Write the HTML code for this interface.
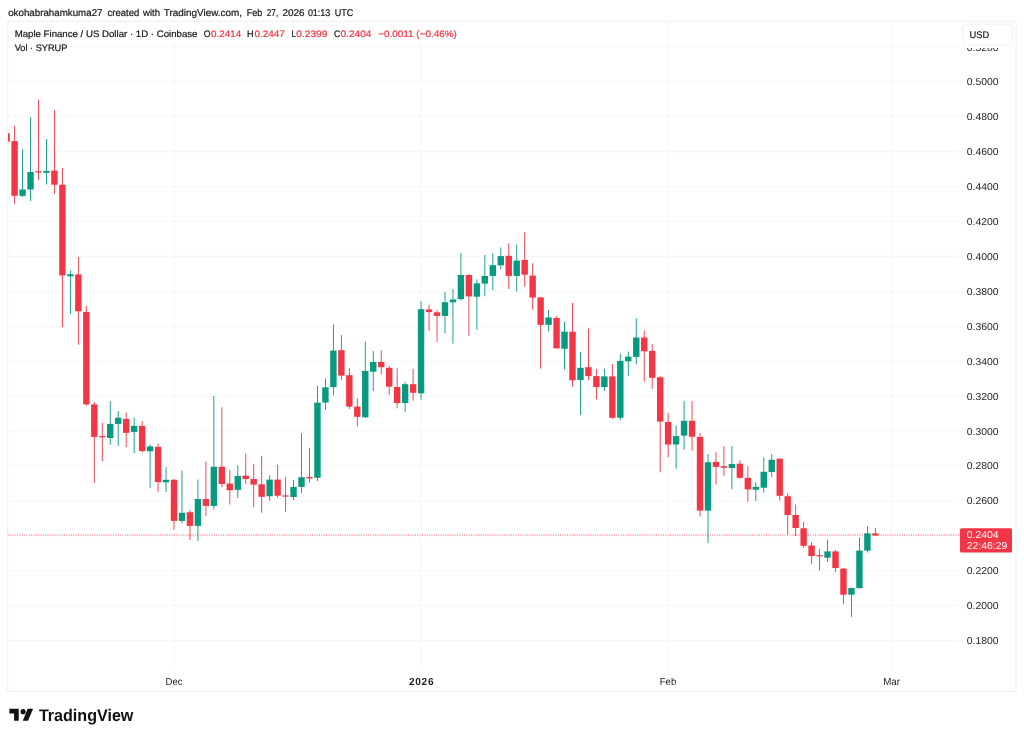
<!DOCTYPE html>
<html lang="en"><head><meta charset="utf-8"><title>SYRUPUSD chart - TradingView</title>
<style>html,body{margin:0;padding:0;background:#fff;}body{width:1024px;height:739px;overflow:hidden;font-family:"Liberation Sans",sans-serif;}svg{display:block}</style>
</head><body>
<svg width="1024" height="739" viewBox="0 0 1024 739" font-family="'Liberation Sans', sans-serif" text-rendering="geometricPrecision">
<rect width="1024" height="739" fill="#fff"/>
<g stroke="#f6f6f6" stroke-width="1">
<line x1="7.8" x2="959" y1="46.82" y2="46.82"/>
<line x1="7.8" x2="959" y1="81.75" y2="81.75"/>
<line x1="7.8" x2="959" y1="116.68" y2="116.68"/>
<line x1="7.8" x2="959" y1="151.61" y2="151.61"/>
<line x1="7.8" x2="959" y1="186.54" y2="186.54"/>
<line x1="7.8" x2="959" y1="221.47" y2="221.47"/>
<line x1="7.8" x2="959" y1="256.40" y2="256.40"/>
<line x1="7.8" x2="959" y1="291.33" y2="291.33"/>
<line x1="7.8" x2="959" y1="326.26" y2="326.26"/>
<line x1="7.8" x2="959" y1="361.19" y2="361.19"/>
<line x1="7.8" x2="959" y1="396.12" y2="396.12"/>
<line x1="7.8" x2="959" y1="431.05" y2="431.05"/>
<line x1="7.8" x2="959" y1="465.98" y2="465.98"/>
<line x1="7.8" x2="959" y1="500.91" y2="500.91"/>
<line x1="7.8" x2="959" y1="535.84" y2="535.84"/>
<line x1="7.8" x2="959" y1="570.77" y2="570.77"/>
<line x1="7.8" x2="959" y1="605.70" y2="605.70"/>
<line x1="7.8" x2="959" y1="640.63" y2="640.63"/>
<line x1="174.1" x2="174.1" y1="21.3" y2="669.3"/>
<line x1="421.2" x2="421.2" y1="21.3" y2="669.3"/>
<line x1="668.3" x2="668.3" y1="21.3" y2="669.3"/>
<line x1="891.5" x2="891.5" y1="21.3" y2="669.3"/>
</g>
<rect x="7.8" y="21.3" width="1008.2" height="670.1" fill="none" stroke="#efefef" stroke-width="1"/>
<line x1="7.8" x2="960" y1="535" y2="535" stroke="#f23645" stroke-width="1" stroke-dasharray="0.95 1.39" stroke-opacity="0.8"/>
<g>
<rect x="8" y="133.2" width="1.8" height="8.50" fill="#f23645"/>
<rect x="14.15" y="125.90" width="0.9" height="77.85" fill="#f23645"/>
<rect x="11.40" y="141.10" width="6.4" height="54.70" fill="#f23645"/>
<rect x="22.12" y="149.40" width="0.9" height="47.50" fill="#089981"/>
<rect x="19.37" y="189.50" width="6.4" height="6.30" fill="#089981"/>
<rect x="30.09" y="117.50" width="0.9" height="83.40" fill="#089981"/>
<rect x="27.34" y="172.00" width="6.4" height="17.50" fill="#089981"/>
<rect x="38.06" y="99.70" width="0.9" height="80.60" fill="#f23645"/>
<rect x="35.31" y="171.30" width="6.4" height="1.20" fill="#f23645"/>
<rect x="46.03" y="139.20" width="0.9" height="45.30" fill="#089981"/>
<rect x="43.28" y="170.90" width="6.4" height="1.90" fill="#089981"/>
<rect x="54.00" y="110.00" width="0.9" height="83.90" fill="#f23645"/>
<rect x="51.25" y="170.60" width="6.4" height="14.10" fill="#f23645"/>
<rect x="61.97" y="168.00" width="0.9" height="159.00" fill="#f23645"/>
<rect x="59.22" y="184.70" width="6.4" height="90.70" fill="#f23645"/>
<rect x="69.94" y="270.60" width="0.9" height="43.30" fill="#089981"/>
<rect x="67.19" y="274.20" width="6.4" height="2.10" fill="#089981"/>
<rect x="77.91" y="256.90" width="0.9" height="87.80" fill="#f23645"/>
<rect x="75.16" y="274.40" width="6.4" height="36.85" fill="#f23645"/>
<rect x="85.88" y="305.90" width="0.9" height="99.70" fill="#f23645"/>
<rect x="83.13" y="311.90" width="6.4" height="92.50" fill="#f23645"/>
<rect x="93.85" y="402.00" width="0.9" height="80.80" fill="#f23645"/>
<rect x="91.10" y="404.40" width="6.4" height="32.50" fill="#f23645"/>
<rect x="101.82" y="422.70" width="0.9" height="38.55" fill="#f23645"/>
<rect x="99.07" y="436.10" width="6.4" height="1.20" fill="#f23645"/>
<rect x="109.79" y="401.25" width="0.9" height="43.45" fill="#089981"/>
<rect x="107.04" y="423.90" width="6.4" height="14.10" fill="#089981"/>
<rect x="117.76" y="411.10" width="0.9" height="34.70" fill="#089981"/>
<rect x="115.01" y="417.70" width="6.4" height="6.20" fill="#089981"/>
<rect x="125.73" y="412.50" width="0.9" height="34.70" fill="#f23645"/>
<rect x="122.98" y="418.90" width="6.4" height="13.90" fill="#f23645"/>
<rect x="133.70" y="417.70" width="0.9" height="35.50" fill="#089981"/>
<rect x="130.95" y="425.90" width="6.4" height="6.00" fill="#089981"/>
<rect x="141.67" y="421.10" width="0.9" height="31.40" fill="#f23645"/>
<rect x="138.92" y="425.90" width="6.4" height="25.20" fill="#f23645"/>
<rect x="149.64" y="444.30" width="0.9" height="43.80" fill="#089981"/>
<rect x="146.89" y="446.40" width="6.4" height="4.85" fill="#089981"/>
<rect x="157.61" y="443.40" width="0.9" height="48.90" fill="#f23645"/>
<rect x="154.86" y="446.80" width="6.4" height="35.30" fill="#f23645"/>
<rect x="165.58" y="467.10" width="0.9" height="24.90" fill="#089981"/>
<rect x="162.83" y="479.80" width="6.4" height="2.50" fill="#089981"/>
<rect x="173.55" y="479.00" width="0.9" height="50.80" fill="#f23645"/>
<rect x="170.80" y="479.80" width="6.4" height="41.10" fill="#f23645"/>
<rect x="181.52" y="470.70" width="0.9" height="52.60" fill="#089981"/>
<rect x="178.77" y="512.80" width="6.4" height="8.10" fill="#089981"/>
<rect x="189.49" y="509.80" width="0.9" height="30.20" fill="#f23645"/>
<rect x="186.74" y="512.20" width="6.4" height="13.70" fill="#f23645"/>
<rect x="197.46" y="479.50" width="0.9" height="61.30" fill="#089981"/>
<rect x="194.71" y="499.00" width="6.4" height="26.90" fill="#089981"/>
<rect x="205.43" y="461.40" width="0.9" height="54.70" fill="#f23645"/>
<rect x="202.68" y="499.00" width="6.4" height="6.90" fill="#f23645"/>
<rect x="213.40" y="395.90" width="0.9" height="113.60" fill="#089981"/>
<rect x="210.65" y="466.80" width="6.4" height="39.10" fill="#089981"/>
<rect x="221.37" y="407.30" width="0.9" height="79.80" fill="#f23645"/>
<rect x="218.62" y="466.80" width="6.4" height="17.20" fill="#f23645"/>
<rect x="229.34" y="470.10" width="0.9" height="34.40" fill="#f23645"/>
<rect x="226.59" y="483.60" width="6.4" height="6.65" fill="#f23645"/>
<rect x="237.31" y="465.25" width="0.9" height="32.95" fill="#089981"/>
<rect x="234.56" y="475.90" width="6.4" height="13.95" fill="#089981"/>
<rect x="245.28" y="453.50" width="0.9" height="30.50" fill="#f23645"/>
<rect x="242.53" y="475.60" width="6.4" height="3.50" fill="#f23645"/>
<rect x="253.25" y="464.00" width="0.9" height="42.90" fill="#f23645"/>
<rect x="250.50" y="479.00" width="6.4" height="5.60" fill="#f23645"/>
<rect x="261.22" y="455.85" width="0.9" height="56.85" fill="#f23645"/>
<rect x="258.47" y="484.30" width="6.4" height="12.50" fill="#f23645"/>
<rect x="269.19" y="475.20" width="0.9" height="25.70" fill="#089981"/>
<rect x="266.44" y="479.60" width="6.4" height="16.65" fill="#089981"/>
<rect x="277.16" y="464.45" width="0.9" height="33.35" fill="#f23645"/>
<rect x="274.41" y="479.60" width="6.4" height="16.10" fill="#f23645"/>
<rect x="285.13" y="477.20" width="0.9" height="34.70" fill="#f23645"/>
<rect x="282.38" y="495.40" width="6.4" height="1.25" fill="#f23645"/>
<rect x="293.10" y="479.80" width="0.9" height="20.20" fill="#089981"/>
<rect x="290.35" y="487.00" width="6.4" height="10.00" fill="#089981"/>
<rect x="301.07" y="433.10" width="0.9" height="60.00" fill="#089981"/>
<rect x="298.32" y="477.20" width="6.4" height="9.70" fill="#089981"/>
<rect x="309.04" y="448.00" width="0.9" height="34.70" fill="#f23645"/>
<rect x="306.29" y="476.90" width="6.4" height="1.50" fill="#f23645"/>
<rect x="317.01" y="385.80" width="0.9" height="95.30" fill="#089981"/>
<rect x="314.26" y="402.60" width="6.4" height="75.20" fill="#089981"/>
<rect x="324.98" y="378.40" width="0.9" height="31.60" fill="#089981"/>
<rect x="322.23" y="387.30" width="6.4" height="15.30" fill="#089981"/>
<rect x="332.95" y="324.40" width="0.9" height="71.00" fill="#089981"/>
<rect x="330.20" y="350.60" width="6.4" height="36.50" fill="#089981"/>
<rect x="340.92" y="335.00" width="0.9" height="44.80" fill="#f23645"/>
<rect x="338.17" y="350.20" width="6.4" height="25.40" fill="#f23645"/>
<rect x="348.89" y="368.10" width="0.9" height="40.80" fill="#f23645"/>
<rect x="346.14" y="375.20" width="6.4" height="31.40" fill="#f23645"/>
<rect x="356.86" y="398.30" width="0.9" height="28.10" fill="#f23645"/>
<rect x="354.11" y="406.60" width="6.4" height="10.20" fill="#f23645"/>
<rect x="364.83" y="341.60" width="0.9" height="76.40" fill="#089981"/>
<rect x="362.08" y="370.90" width="6.4" height="46.40" fill="#089981"/>
<rect x="372.80" y="351.10" width="0.9" height="40.15" fill="#089981"/>
<rect x="370.05" y="362.00" width="6.4" height="9.70" fill="#089981"/>
<rect x="380.77" y="350.30" width="0.9" height="24.10" fill="#f23645"/>
<rect x="378.02" y="362.00" width="6.4" height="5.20" fill="#f23645"/>
<rect x="388.74" y="365.90" width="0.9" height="28.90" fill="#f23645"/>
<rect x="385.99" y="367.80" width="6.4" height="18.80" fill="#f23645"/>
<rect x="396.71" y="368.30" width="0.9" height="40.10" fill="#f23645"/>
<rect x="393.96" y="387.00" width="6.4" height="16.00" fill="#f23645"/>
<rect x="404.68" y="381.90" width="0.9" height="30.00" fill="#089981"/>
<rect x="401.93" y="384.20" width="6.4" height="18.80" fill="#089981"/>
<rect x="412.65" y="368.75" width="0.9" height="31.85" fill="#f23645"/>
<rect x="409.90" y="384.20" width="6.4" height="8.60" fill="#f23645"/>
<rect x="420.62" y="301.10" width="0.9" height="98.70" fill="#089981"/>
<rect x="417.87" y="309.20" width="6.4" height="84.10" fill="#089981"/>
<rect x="428.59" y="304.70" width="0.9" height="26.10" fill="#f23645"/>
<rect x="425.84" y="309.40" width="6.4" height="2.70" fill="#f23645"/>
<rect x="436.56" y="310.20" width="0.9" height="31.80" fill="#f23645"/>
<rect x="433.81" y="312.30" width="6.4" height="3.60" fill="#f23645"/>
<rect x="444.53" y="291.70" width="0.9" height="41.50" fill="#089981"/>
<rect x="441.78" y="302.20" width="6.4" height="13.70" fill="#089981"/>
<rect x="452.50" y="288.90" width="0.9" height="54.70" fill="#089981"/>
<rect x="449.75" y="299.50" width="6.4" height="2.80" fill="#089981"/>
<rect x="460.47" y="253.10" width="0.9" height="47.50" fill="#089981"/>
<rect x="457.72" y="275.00" width="6.4" height="24.10" fill="#089981"/>
<rect x="468.44" y="274.20" width="0.9" height="61.60" fill="#f23645"/>
<rect x="465.69" y="275.00" width="6.4" height="21.40" fill="#f23645"/>
<rect x="476.41" y="279.40" width="0.9" height="50.30" fill="#089981"/>
<rect x="473.66" y="283.40" width="6.4" height="13.30" fill="#089981"/>
<rect x="484.38" y="255.00" width="0.9" height="41.25" fill="#089981"/>
<rect x="481.63" y="275.90" width="6.4" height="7.70" fill="#089981"/>
<rect x="492.35" y="253.00" width="0.9" height="37.20" fill="#089981"/>
<rect x="489.60" y="265.20" width="6.4" height="10.70" fill="#089981"/>
<rect x="500.32" y="247.50" width="0.9" height="21.90" fill="#089981"/>
<rect x="497.57" y="256.10" width="6.4" height="9.20" fill="#089981"/>
<rect x="508.29" y="243.30" width="0.9" height="45.60" fill="#f23645"/>
<rect x="505.54" y="255.80" width="6.4" height="20.10" fill="#f23645"/>
<rect x="516.26" y="244.40" width="0.9" height="47.20" fill="#089981"/>
<rect x="513.51" y="260.60" width="6.4" height="15.30" fill="#089981"/>
<rect x="524.23" y="232.30" width="0.9" height="54.40" fill="#f23645"/>
<rect x="521.48" y="260.00" width="6.4" height="14.70" fill="#f23645"/>
<rect x="532.20" y="263.30" width="0.9" height="46.40" fill="#f23645"/>
<rect x="529.45" y="275.60" width="6.4" height="21.90" fill="#f23645"/>
<rect x="540.17" y="296.70" width="0.9" height="71.90" fill="#f23645"/>
<rect x="537.42" y="297.40" width="6.4" height="27.45" fill="#f23645"/>
<rect x="548.14" y="310.15" width="0.9" height="21.15" fill="#089981"/>
<rect x="545.39" y="317.50" width="6.4" height="7.30" fill="#089981"/>
<rect x="556.11" y="316.20" width="0.9" height="32.55" fill="#f23645"/>
<rect x="553.36" y="318.00" width="6.4" height="30.30" fill="#f23645"/>
<rect x="564.08" y="321.65" width="0.9" height="47.85" fill="#089981"/>
<rect x="561.33" y="331.65" width="6.4" height="17.10" fill="#089981"/>
<rect x="572.05" y="302.90" width="0.9" height="83.80" fill="#f23645"/>
<rect x="569.30" y="331.65" width="6.4" height="48.65" fill="#f23645"/>
<rect x="580.02" y="351.90" width="0.9" height="62.90" fill="#089981"/>
<rect x="577.27" y="367.80" width="6.4" height="12.20" fill="#089981"/>
<rect x="587.99" y="328.40" width="0.9" height="51.90" fill="#f23645"/>
<rect x="585.24" y="367.20" width="6.4" height="8.90" fill="#f23645"/>
<rect x="595.96" y="369.10" width="0.9" height="30.40" fill="#f23645"/>
<rect x="593.21" y="376.10" width="6.4" height="10.90" fill="#f23645"/>
<rect x="603.93" y="368.75" width="0.9" height="22.15" fill="#089981"/>
<rect x="601.18" y="376.40" width="6.4" height="10.60" fill="#089981"/>
<rect x="611.90" y="364.10" width="0.9" height="54.90" fill="#f23645"/>
<rect x="609.15" y="376.40" width="6.4" height="41.40" fill="#f23645"/>
<rect x="619.87" y="353.40" width="0.9" height="66.90" fill="#089981"/>
<rect x="617.12" y="360.90" width="6.4" height="56.85" fill="#089981"/>
<rect x="627.84" y="351.60" width="0.9" height="24.60" fill="#089981"/>
<rect x="625.09" y="356.60" width="6.4" height="4.65" fill="#089981"/>
<rect x="635.81" y="318.30" width="0.9" height="46.10" fill="#089981"/>
<rect x="633.06" y="337.50" width="6.4" height="19.40" fill="#089981"/>
<rect x="643.78" y="330.50" width="0.9" height="51.15" fill="#f23645"/>
<rect x="641.03" y="337.50" width="6.4" height="13.75" fill="#f23645"/>
<rect x="651.75" y="344.10" width="0.9" height="44.70" fill="#f23645"/>
<rect x="649.00" y="350.90" width="6.4" height="26.85" fill="#f23645"/>
<rect x="659.72" y="376.10" width="0.9" height="96.20" fill="#f23645"/>
<rect x="656.97" y="377.30" width="6.4" height="44.30" fill="#f23645"/>
<rect x="667.69" y="413.00" width="0.9" height="44.20" fill="#f23645"/>
<rect x="664.94" y="422.00" width="6.4" height="22.50" fill="#f23645"/>
<rect x="675.66" y="425.50" width="0.9" height="43.40" fill="#089981"/>
<rect x="672.91" y="436.10" width="6.4" height="8.40" fill="#089981"/>
<rect x="683.63" y="400.90" width="0.9" height="48.80" fill="#089981"/>
<rect x="680.88" y="420.80" width="6.4" height="14.80" fill="#089981"/>
<rect x="691.60" y="400.90" width="0.9" height="49.90" fill="#f23645"/>
<rect x="688.85" y="420.80" width="6.4" height="15.90" fill="#f23645"/>
<rect x="699.57" y="433.00" width="0.9" height="83.60" fill="#f23645"/>
<rect x="696.82" y="436.90" width="6.4" height="73.70" fill="#f23645"/>
<rect x="707.54" y="453.80" width="0.9" height="89.30" fill="#089981"/>
<rect x="704.79" y="462.20" width="6.4" height="48.40" fill="#089981"/>
<rect x="715.51" y="452.00" width="0.9" height="32.50" fill="#f23645"/>
<rect x="712.76" y="461.90" width="6.4" height="5.00" fill="#f23645"/>
<rect x="723.48" y="446.00" width="0.9" height="29.90" fill="#f23645"/>
<rect x="720.73" y="466.20" width="6.4" height="1.60" fill="#f23645"/>
<rect x="731.45" y="446.00" width="0.9" height="43.20" fill="#089981"/>
<rect x="728.70" y="464.00" width="6.4" height="4.05" fill="#089981"/>
<rect x="739.42" y="460.30" width="0.9" height="18.40" fill="#f23645"/>
<rect x="736.67" y="463.75" width="6.4" height="14.05" fill="#f23645"/>
<rect x="747.39" y="466.10" width="0.9" height="35.60" fill="#f23645"/>
<rect x="744.64" y="477.80" width="6.4" height="11.60" fill="#f23645"/>
<rect x="755.36" y="482.20" width="0.9" height="18.70" fill="#089981"/>
<rect x="752.61" y="486.90" width="6.4" height="2.80" fill="#089981"/>
<rect x="763.33" y="457.35" width="0.9" height="35.35" fill="#089981"/>
<rect x="760.58" y="471.80" width="6.4" height="15.90" fill="#089981"/>
<rect x="771.30" y="454.05" width="0.9" height="23.05" fill="#089981"/>
<rect x="768.55" y="459.80" width="6.4" height="12.20" fill="#089981"/>
<rect x="779.27" y="458.40" width="0.9" height="42.20" fill="#f23645"/>
<rect x="776.52" y="458.70" width="6.4" height="37.10" fill="#f23645"/>
<rect x="787.24" y="493.40" width="0.9" height="41.50" fill="#f23645"/>
<rect x="784.49" y="496.25" width="6.4" height="18.75" fill="#f23645"/>
<rect x="795.21" y="504.50" width="0.9" height="31.50" fill="#f23645"/>
<rect x="792.46" y="515.00" width="6.4" height="13.00" fill="#f23645"/>
<rect x="803.18" y="522.00" width="0.9" height="25.80" fill="#f23645"/>
<rect x="800.43" y="528.30" width="6.4" height="17.50" fill="#f23645"/>
<rect x="811.15" y="542.00" width="0.9" height="22.20" fill="#f23645"/>
<rect x="808.40" y="545.50" width="6.4" height="10.60" fill="#f23645"/>
<rect x="819.12" y="548.90" width="0.9" height="21.60" fill="#f23645"/>
<rect x="816.37" y="555.20" width="6.4" height="1.20" fill="#f23645"/>
<rect x="827.09" y="539.70" width="0.9" height="22.20" fill="#089981"/>
<rect x="824.34" y="551.40" width="6.4" height="6.30" fill="#089981"/>
<rect x="835.06" y="550.00" width="0.9" height="22.00" fill="#f23645"/>
<rect x="832.31" y="551.40" width="6.4" height="16.70" fill="#f23645"/>
<rect x="843.03" y="568.10" width="0.9" height="35.90" fill="#f23645"/>
<rect x="840.28" y="568.60" width="6.4" height="26.10" fill="#f23645"/>
<rect x="851.00" y="587.60" width="0.9" height="29.30" fill="#089981"/>
<rect x="848.25" y="588.00" width="6.4" height="6.70" fill="#089981"/>
<rect x="858.97" y="537.30" width="0.9" height="51.45" fill="#089981"/>
<rect x="856.22" y="550.60" width="6.4" height="37.50" fill="#089981"/>
<rect x="866.94" y="526.25" width="0.9" height="26.25" fill="#089981"/>
<rect x="864.19" y="533.30" width="6.4" height="17.30" fill="#089981"/>
<rect x="874.91" y="527.80" width="0.9" height="8.10" fill="#f23645"/>
<rect x="872.16" y="533.40" width="6.4" height="2.10" fill="#f23645"/>
</g>
<text y="15.8" font-size="9.8" fill="#1a1a1e" stroke="#1a1a1e" stroke-width="0.22"><tspan x="8.2" textLength="94.30" lengthAdjust="spacingAndGlyphs">okohabrahamkuma27</tspan> <tspan x="107.5" textLength="31.80" lengthAdjust="spacingAndGlyphs">created</tspan> <tspan x="143.0" textLength="17.00" lengthAdjust="spacingAndGlyphs">with</tspan> <tspan x="163.8" textLength="78.20" lengthAdjust="spacingAndGlyphs">TradingView.com,</tspan> <tspan x="246.8" textLength="15.50" lengthAdjust="spacingAndGlyphs">Feb</tspan> <tspan x="266.8" textLength="11.40" lengthAdjust="spacingAndGlyphs">27,</tspan> <tspan x="282.4" textLength="22.20" lengthAdjust="spacingAndGlyphs">2026</tspan> <tspan x="307.9" textLength="22.40" lengthAdjust="spacingAndGlyphs">01:13</tspan> <tspan x="334.7" textLength="18.60" lengthAdjust="spacingAndGlyphs">UTC</tspan></text>
<text x="14.65" y="37.1" font-size="9.4" fill="#1a1a1e" stroke="#1a1a1e" stroke-width="0.22" textLength="182.85" lengthAdjust="spacingAndGlyphs">Maple Finance / US Dollar · 1D · Coinbase</text>
<text x="203.8" y="37.1" font-size="9.4" fill="#1a1a1e" stroke="#1a1a1e" stroke-width="0.22" textLength="6.80" lengthAdjust="spacingAndGlyphs">O</text>
<text x="211.1" y="37.1" font-size="9.4" fill="#f23645" stroke="#f23645" stroke-width="0.22" textLength="30.10" lengthAdjust="spacingAndGlyphs">0.2414</text>
<text x="247.1" y="37.1" font-size="9.4" fill="#1a1a1e" stroke="#1a1a1e" stroke-width="0.22" textLength="6.60" lengthAdjust="spacingAndGlyphs">H</text>
<text x="254.4" y="37.1" font-size="9.4" fill="#f23645" stroke="#f23645" stroke-width="0.22" textLength="30.40" lengthAdjust="spacingAndGlyphs">0.2447</text>
<text x="291.5" y="37.1" font-size="9.4" fill="#1a1a1e" stroke="#1a1a1e" stroke-width="0.22" textLength="4.60" lengthAdjust="spacingAndGlyphs">L</text>
<text x="296.2" y="37.1" font-size="9.4" fill="#f23645" stroke="#f23645" stroke-width="0.22" textLength="31.30" lengthAdjust="spacingAndGlyphs">0.2399</text>
<text x="334" y="37.1" font-size="9.4" fill="#1a1a1e" stroke="#1a1a1e" stroke-width="0.22" textLength="6.30" lengthAdjust="spacingAndGlyphs">C</text>
<text x="340.5" y="37.1" font-size="9.4" fill="#f23645" stroke="#f23645" stroke-width="0.22" textLength="30.90" lengthAdjust="spacingAndGlyphs">0.2404</text>
<text x="378.2" y="37.1" font-size="9.4" fill="#f23645" stroke="#f23645" stroke-width="0.22" textLength="78.70" lengthAdjust="spacingAndGlyphs">−0.0011 (−0.46%)</text>
<text x="14.65" y="50.5" font-size="9.4" fill="#1a1a1e" stroke="#1a1a1e" stroke-width="0.22" textLength="52.75" lengthAdjust="spacingAndGlyphs">Vol · SYRUP</text>
<text x="966.7" y="50.82" font-size="10" fill="#1e1e1e" textLength="31.90" lengthAdjust="spacingAndGlyphs">0.5200</text>
<text x="966.7" y="85.25" font-size="10" fill="#1e1e1e" textLength="31.90" lengthAdjust="spacingAndGlyphs">0.5000</text>
<text x="966.7" y="120.18" font-size="10" fill="#1e1e1e" textLength="31.90" lengthAdjust="spacingAndGlyphs">0.4800</text>
<text x="966.7" y="155.11" font-size="10" fill="#1e1e1e" textLength="31.90" lengthAdjust="spacingAndGlyphs">0.4600</text>
<text x="966.7" y="190.04" font-size="10" fill="#1e1e1e" textLength="31.90" lengthAdjust="spacingAndGlyphs">0.4400</text>
<text x="966.7" y="224.97" font-size="10" fill="#1e1e1e" textLength="31.90" lengthAdjust="spacingAndGlyphs">0.4200</text>
<text x="966.7" y="259.9" font-size="10" fill="#1e1e1e" textLength="31.90" lengthAdjust="spacingAndGlyphs">0.4000</text>
<text x="966.7" y="294.83" font-size="10" fill="#1e1e1e" textLength="31.90" lengthAdjust="spacingAndGlyphs">0.3800</text>
<text x="966.7" y="329.76" font-size="10" fill="#1e1e1e" textLength="31.90" lengthAdjust="spacingAndGlyphs">0.3600</text>
<text x="966.7" y="364.69" font-size="10" fill="#1e1e1e" textLength="31.90" lengthAdjust="spacingAndGlyphs">0.3400</text>
<text x="966.7" y="399.62" font-size="10" fill="#1e1e1e" textLength="31.90" lengthAdjust="spacingAndGlyphs">0.3200</text>
<text x="966.7" y="434.55" font-size="10" fill="#1e1e1e" textLength="31.90" lengthAdjust="spacingAndGlyphs">0.3000</text>
<text x="966.7" y="469.48" font-size="10" fill="#1e1e1e" textLength="31.90" lengthAdjust="spacingAndGlyphs">0.2800</text>
<text x="966.7" y="504.41" font-size="10" fill="#1e1e1e" textLength="31.90" lengthAdjust="spacingAndGlyphs">0.2600</text>
<text x="966.7" y="539.34" font-size="10" fill="#1e1e1e" textLength="31.90" lengthAdjust="spacingAndGlyphs">0.2400</text>
<text x="966.7" y="574.27" font-size="10" fill="#1e1e1e" textLength="31.90" lengthAdjust="spacingAndGlyphs">0.2200</text>
<text x="966.7" y="609.2" font-size="10" fill="#1e1e1e" textLength="31.90" lengthAdjust="spacingAndGlyphs">0.2000</text>
<text x="966.7" y="644.13" font-size="10" fill="#1e1e1e" textLength="31.90" lengthAdjust="spacingAndGlyphs">0.1800</text>
<rect x="960" y="22" width="55.4" height="26" fill="#fff"/>
<rect x="962.7" y="24.1" width="50" height="21.1" rx="4" fill="#fff" stroke="#f1f1f1" stroke-width="1"/>
<text x="969.6" y="37.9" font-size="9.6" fill="#1a1a1e" stroke="#1a1a1e" stroke-width="0.22" textLength="19.60" lengthAdjust="spacingAndGlyphs">USD</text>
<rect x="960" y="528.2" width="52" height="24.3" rx="1.5" fill="#f23645"/>
<text x="966.7" y="538.0" font-size="10" fill="#fff" textLength="31.90" lengthAdjust="spacingAndGlyphs">0.2404</text>
<text x="966.7" y="549.2" font-size="10" fill="#fff" textLength="40.60" lengthAdjust="spacingAndGlyphs">22:46:29</text>
<text x="165.6" y="685.0" font-size="10.1" fill="#1e1e1e" textLength="17.00" lengthAdjust="spacingAndGlyphs">Dec</text>
<text x="408.9" y="685.0" font-size="10.1" fill="#1e1e1e" textLength="24.60" lengthAdjust="spacing" font-weight="bold">2026</text>
<text x="659.7" y="685.0" font-size="10.1" fill="#1e1e1e" textLength="16.60" lengthAdjust="spacingAndGlyphs">Feb</text>
<text x="883.2" y="685.0" font-size="10.1" fill="#1e1e1e" textLength="16.80" lengthAdjust="spacingAndGlyphs">Mar</text>
<g transform="translate(9.4,706.13) scale(0.6667)" fill="#111"><path d="M14 22H7V11H0V4h14v18z"/><path d="M28 22h-8l7.5-18h8L28 22z"/><circle cx="20.5" cy="8.3" r="3.9"/></g>
<text x="38.9" y="720.6" font-size="16.9" fill="#111" textLength="94.50" lengthAdjust="spacingAndGlyphs" font-weight="bold">TradingView</text>
</svg>
</body></html>
